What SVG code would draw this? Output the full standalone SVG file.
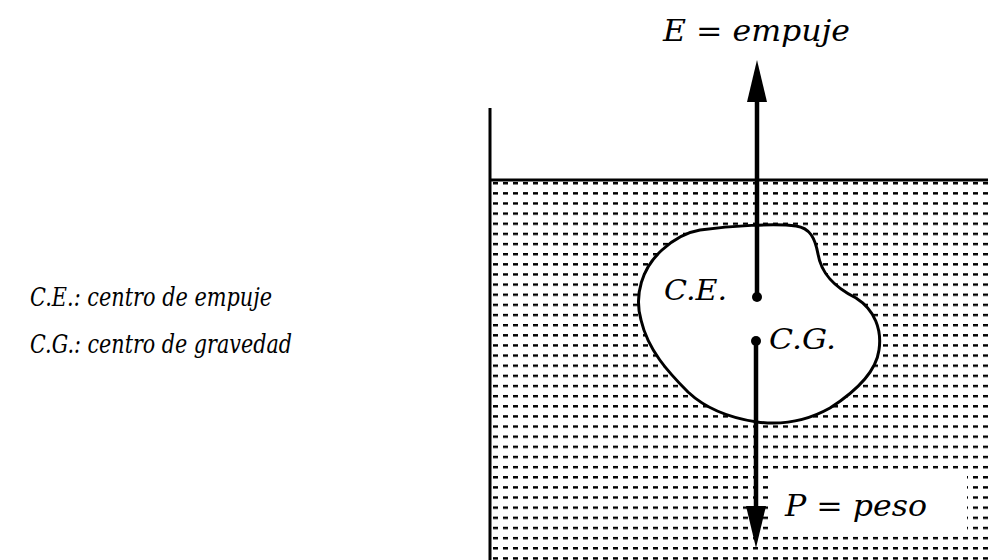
<svg xmlns="http://www.w3.org/2000/svg" width="988" height="560" viewBox="0 0 988 560">
<style>
.t{font-family:"DejaVu Serif","Liberation Serif",serif;font-style:italic;fill:#000}
.ln{stroke:#000;fill:none}
</style>
<defs>
<pattern id="hatch" patternUnits="userSpaceOnUse" x="492" y="182" width="10" height="10.14">
<rect x="1" y="0" width="5" height="2.4" fill="#000"/>
</pattern>
<marker id="head" markerUnits="userSpaceOnUse" viewBox="-24 -11 46 22" refX="0" refY="0" markerWidth="46" markerHeight="22" orient="auto" overflow="visible">
<path d="M20,0 L-22,-10 L-22,10 Z" fill="#000"/>
</marker>
</defs>
<rect width="988" height="560" fill="#fff"/>
<g id="tank">
<rect x="492" y="181" width="496" height="379" fill="url(#hatch)"/>
<line class="ln" x1="490" y1="108" x2="490" y2="560" stroke-width="3"/>
<line class="ln" x1="489" y1="180" x2="988" y2="180" stroke-width="3"/>
</g>
<g id="body">
<path d="M700,230 C730,226 775,223 796,226 C810,228 815,238 818,254 C821,272 832,286 856,298 C875,310 882,330 879,350 C876,372 855,392 830,408 C805,422 780,425 757,422 C730,418 705,408 688,392 C668,372 648,350 641,320 C634,295 642,268 662,250 C675,238 688,232 700,230 Z" fill="#fff" stroke="#000" stroke-width="3"/>
</g>
<g id="label-peso">
<rect x="772" y="469" width="195" height="66" fill="#fff"/>
<text class="t" x="785" y="516" font-size="29" textLength="142" lengthAdjust="spacingAndGlyphs">P = peso</text>
</g>
<g id="connectors">
<line class="ln" x1="757" y1="297" x2="757" y2="80" stroke-width="4.5" marker-end="url(#head)"/>
<line class="ln" x1="756" y1="341" x2="756" y2="528" stroke-width="4.5" marker-end="url(#head)"/>
</g>
<g id="ce">
<circle cx="757" cy="297" r="5" fill="#000"/>
<text class="t" x="664" y="300" font-size="28" textLength="63" lengthAdjust="spacingAndGlyphs">C.E.</text>
</g>
<g id="cg">
<circle cx="756" cy="341" r="5" fill="#000"/>
<text class="t" x="769" y="349" font-size="28" textLength="67" lengthAdjust="spacingAndGlyphs">C.G.</text>
</g>
<g id="label-empuje">
<text class="t" x="663" y="41" font-size="29" textLength="187" lengthAdjust="spacingAndGlyphs">E = empuje</text>
</g>
<g id="legend">
<text class="t" x="30" y="306" font-size="26" textLength="242" lengthAdjust="spacingAndGlyphs">C.E.: centro de empuje</text>
<text class="t" x="30" y="353" font-size="26" textLength="262" lengthAdjust="spacingAndGlyphs">C.G.: centro de gravedad</text>
</g>
</svg>
